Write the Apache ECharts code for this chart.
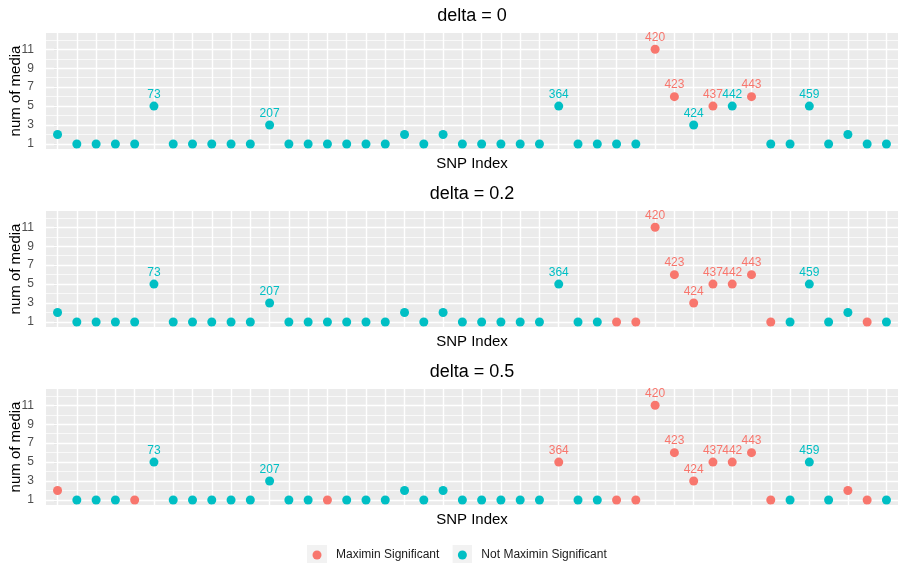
<!DOCTYPE html>
<html>
<head>
<meta charset="utf-8">
<script src="https://cdn.jsdelivr.net/npm/echarts@6/dist/echarts.min.js"></script>
<style>
html,body{margin:0;padding:0;background:#fff;}
#chart{width:901px;height:563px;}
</style>
</head>
<body>
<div id="chart"></div>
<script>
// ---- data ----
const panelTitles = ['delta = 0', 'delta = 0.2', 'delta = 0.5'];
const snpLabels = ['', '', '', '', '', '73', '', '', '', '', '', '207', '', '', '', '', '', '', '', '', '',
                   '', '', '', '', '', '364', '', '', '', '', '420', '423', '424', '437', '442', '443', '', '', '459', '', '', '', ''];
const numMedia = [2, 1, 1, 1, 1, 5, 1, 1, 1, 1, 1, 3, 1, 1, 1, 1, 1, 1, 2, 1, 2,
                  1, 1, 1, 1, 1, 5, 1, 1, 1, 1, 11, 6, 3, 5, 5, 6, 1, 1, 5, 1, 2, 1, 1];
// 1 = Maximin Significant, 0 = Not Maximin Significant
const sigDelta0 = [0,0,0,0,0,0,0,0,0,0, 0,0,0,0,0,0,0,0,0,0, 0,0,0,0,0,0,0,0,0,0, 0,1,1,0,1,0,1,0,0,0, 0,0,0,0];
const sigDelta02 = [0,0,0,0,0,0,0,0,0,0, 0,0,0,0,0,0,0,0,0,0, 0,0,0,0,0,0,0,0,0,1, 1,1,1,1,1,1,1,1,0,0, 0,0,1,0];
const sigDelta05 = [1,0,0,0,1,0,0,0,0,0, 0,0,0,0,1,0,0,0,0,0, 0,0,0,0,0,0,1,0,0,1, 1,1,1,1,1,1,1,1,0,0, 0,1,1,0];
const significance = [sigDelta0, sigDelta02, sigDelta05];
const yMajorTicks = [1, 3, 5, 7, 9, 11];
const yMinorTicks = [2, 4, 6, 8, 10, 12];
const seriesNames = ['Maximin Significant', 'Not Maximin Significant'];

// ---- styling ----
const RED = '#F8766D', TEAL = '#00BFC4';
const FONT = 'Liberation Sans, Arial, Helvetica, sans-serif';
const gridTops = [33, 211, 389];
const gridH = 116;

const chart = echarts.init(document.getElementById('chart'), null, {renderer: 'canvas'});

const grids = [], xAxes = [], yAxes = [], series = [], titles = [];
panelTitles.forEach((t, g) => {
  grids.push({left: 46, right: 3, top: gridTops[g], height: gridH, show: true,
              backgroundColor: '#EBEBEB', borderWidth: 0, containLabel: false, outerBoundsMode: 'none'});
  titles.push({text: t, left: 472, top: gridTops[g] - 26, textAlign: 'center', padding: 0,
               textStyle: {fontSize: 18, fontWeight: 'normal', color: '#000', fontFamily: FONT}});
  xAxes.push({gridIndex: g, type: 'value', min: -0.6, max: snpLabels.length - 0.4,
              axisLine: {show: false}, axisTick: {show: false}, axisLabel: {show: false},
              splitLine: {show: false},
              name: 'SNP Index', nameLocation: 'middle', nameGap: 7, nameMoveOverlap: false,
              nameTextStyle: {fontSize: 15, color: '#000', fontFamily: FONT, verticalAlign: 'top'}});
  yAxes.push({gridIndex: g, type: 'value', min: 0.47, max: 12.72,
              axisLine: {show: true, lineStyle: {color: 'rgba(0,0,0,0)'}},
              axisTick: {show: true, length: 4, customValues: yMajorTicks, lineStyle: {color: '#333333', width: 1.1}},
              axisLabel: {show: true, customValues: yMajorTicks, color: '#4D4D4D', fontSize: 12, margin: 12, fontFamily: FONT},
              splitLine: {show: false},
              name: 'num of media', nameLocation: 'middle', nameGap: 23, nameMoveOverlap: false,
              nameTextStyle: {fontSize: 15, color: '#000', fontFamily: FONT}});
  // grid lines (drawn through the axes' scales)
  const lines = [];
  yMinorTicks.forEach(v => lines.push({yAxis: v, lineStyle: {width: 0.7}}));
  yMajorTicks.forEach(v => lines.push({yAxis: v, lineStyle: {width: 1.4}}));
  snpLabels.forEach((_, i) => lines.push({xAxis: i, lineStyle: {width: 1.4}}));
  series.push({type: 'line', xAxisIndex: g, yAxisIndex: g, data: [], z: 1, silent: true,
               markLine: {silent: true, z: 1, symbol: ['none', 'none'], animation: false,
                          label: {show: false}, emphasis: {disabled: true},
                          lineStyle: {color: '#FFFFFF', type: 'solid'}, data: lines}});
  [1, 0].forEach(flag => {
    const color = flag ? RED : TEAL;
    const data = [];
    numMedia.forEach((v, i) => { if (significance[g][i] === flag) data.push([i, v, snpLabels[i]]); });
    series.push({type: 'scatter', name: flag ? seriesNames[0] : seriesNames[1],
                 xAxisIndex: g, yAxisIndex: g, z: 3, symbol: 'circle', symbolSize: 9,
                 itemStyle: {color: color, opacity: 1},
                 label: {show: true, position: 'top', distance: 1, color: color, fontSize: 12, fontFamily: FONT,
                         formatter: p => p.value[2]},
                 data: data});
  });
});

function keyIcon(color) {
  const svg = '<svg xmlns="http://www.w3.org/2000/svg" width="20" height="20"><rect width="20" height="20" fill="#F2F2F2"/><circle cx="10" cy="10" r="4.5" fill="' + color + '"/></svg>';
  return 'image://data:image/svg+xml;utf8,' + encodeURIComponent(svg);
}

chart.setOption({
  animation: false,
  textStyle: {fontFamily: FONT},
  title: titles,
  grid: grids,
  xAxis: xAxes,
  yAxis: yAxes,
  legend: {left: 307, top: 545, padding: 0, itemWidth: 20, itemHeight: 20, itemGap: 13,
           textStyle: {fontSize: 12, color: '#1A1A1A', fontFamily: FONT, padding: [0, 0, 0, 4]},
           data: [{name: seriesNames[0], icon: keyIcon(RED)}, {name: seriesNames[1], icon: keyIcon(TEAL)}]},
  series: series
});
</script>
</body>
</html>
